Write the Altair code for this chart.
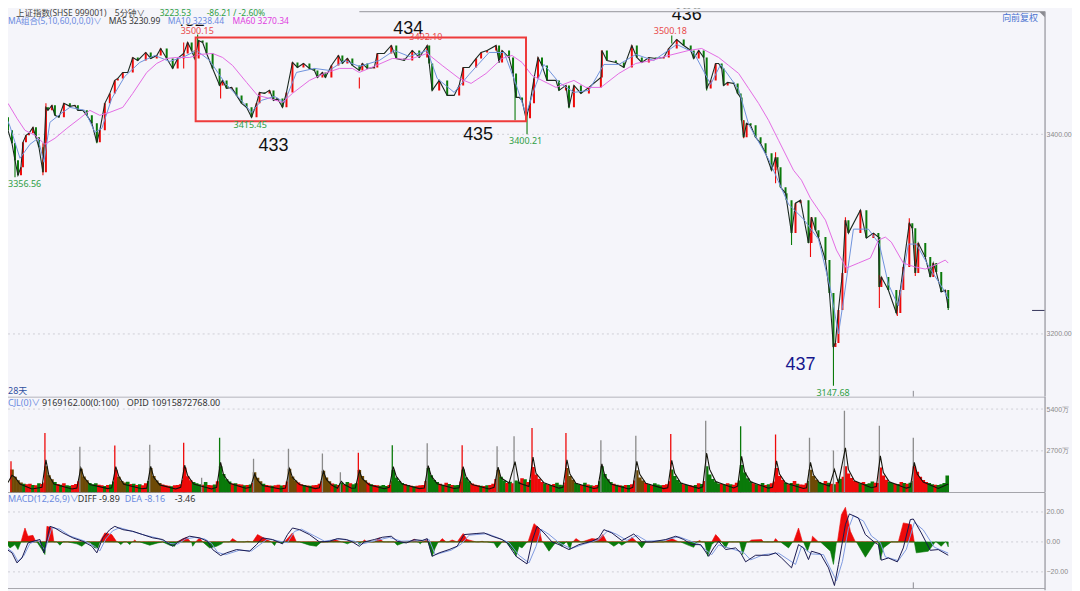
import altair as alt
import pandas as pd

BG = "#f5f5fa"
FONT = "Noto Sans, Noto Sans CJK SC"

# ---------- price panel ----------
close_x = [0,4,8,12,15,18,21,23,26,29,33,36,39,43,46,48,52,55,59,64,70,75,78,83,87,92,97,100,105,110,115,118,123,128,133,138,146,151,157,161,167,173,178,184,188,192,195,199,203,207,213,220,223,227,232,237,242,247,252,257,260,265,270,274,278,283,287,293,298,304,310,315,318,323,326,332,339,343,348,353,360,
363,368,375,378,385,392,397,405,413,420,428,430,433,440,448,455,460,464,470,477,482,488,497,500,503,510,514,517,520,523,527,531,535,539,543,548,557,560,567,570,575,582,590,602,603,608,617,625,633,638,643,650,657,665,670,678,685,692,695,700,705,708,712,717,
720,723,725,729,735,739,742,743,745,748,752,757,762,767,773,777,779,782,787,788,793,797,802,810,813,817,820,827,831,835,837,840,844,847,850,862,868,875,880,881,883,890,898,902,905,911,914,917,920,927,932,935,938,943,947,950]
close_p = [3424,3417,3404,3391,3374,3359,3367,3392,3399,3401,3407,3397,3387,3362,3427,3424,3429,3419,3417,3431,3428,3429,3424,3424,3419,3411,3392,3404,3431,3441,3454,3456,3462,3462,3477,3474,3482,3476,3479,3486,3476,3466,3476,3481,3492,3484,3476,3494,3492,3481,3466,3449,3454,3446,3447,3439,3431,3427,3417,3431,3442,3441,3444,3434,3436,3427,3442,3472,3467,3471,3466,3464,3457,3462,3457,3469,3479,3471,3476,3469,3464,
3471,3466,3467,3481,3481,3489,3476,3474,3484,3477,3489,3471,3444,3454,3439,3439,3449,3467,3467,3476,3482,3484,3489,3472,3484,3477,3461,3437,3437,3434,3416,3431,3456,3477,3469,3454,3454,3444,3449,3427,3449,3441,3447,3457,3484,3474,3472,3467,3489,3477,3472,3477,3476,3477,3486,3495,3489,3484,3476,3484,3477,3446,3454,3471,
3471,3466,3449,3452,3451,3441,3437,3414,3397,3411,3409,3397,3391,3381,3364,3377,3367,3347,3341,3334,3301,3331,3334,3291,3317,3304,3297,3274,3241,3187,3191,3224,3261,3314,3301,3324,3296,3301,3297,3247,3257,3244,3221,3244,3267,3311,3306,3261,3291,3277,3257,3271,3262,3242,3244,3226]

ma10_x = [0,10,20,30,38,44,50,60,70,85,95,102,112,125,140,155,170,185,197,210,225,240,252,262,275,285,297,315,330,345,360,380,395,410,428,438,455,470,490,505,517,527,537,545,560,575,590,605,620,637,655,678,695,712,722,740,750,770,790,805,820,832,840,846,855,870,881,890,900,910,918,932,945,950]
ma10_p = [3432,3408,3376,3390,3396,3372,3412,3420,3427,3424,3402,3406,3436,3458,3472,3479,3473,3478,3484,3474,3452,3436,3422,3434,3438,3432,3462,3466,3464,3474,3468,3474,3484,3478,3484,3456,3442,3460,3482,3482,3450,3420,3450,3470,3452,3442,3444,3470,3470,3480,3474,3490,3482,3450,3470,3445,3410,3375,3330,3315,3295,3245,3200,3240,3305,3305,3290,3250,3228,3290,3290,3265,3245,3235]

ma60_x = [0,8,17,25,35,45,55,67,80,90,100,110,123,133,147,157,167,177,190,200,213,223,233,247,258,270,283,293,310,325,340,353,360,377,393,410,428,443,460,472,487,503,513,523,533,547,557,567,575,587,602,620,637,653,670,690,703,720,730,740,750,760,770,780,795,803,812,827,838,848,860,872,880,887,893,905,917,927,937,947,950]
ma60_p = [3435,3431,3416,3404,3399,3390,3396,3406,3416,3424,3419,3422,3427,3441,3462,3471,3476,3477,3477,3480,3481,3477,3469,3452,3439,3436,3432,3441,3454,3461,3466,3466,3462,3469,3476,3475,3481,3469,3456,3451,3461,3476,3479,3472,3459,3452,3447,3451,3454,3447,3447,3461,3471,3474,3479,3484,3486,3477,3469,3461,3446,3431,3414,3394,3364,3354,3336,3314,3284,3266,3271,3276,3294,3297,3292,3271,3267,3265,3269,3274,3271]

wick_x  = [15,43,46,97,184,198,221,360,516,528,570,673,708,745,777,793,812,835,847,881,899,911,917,950]
wick_hi = [3391,3391,3431,3404,3492,3500,3452,3457,3449,3421,3444,3499,3457,3414,3382,3307,3301,3191,3317,3259,3231,3316,3291,3237]
wick_lo = [3357,3359,3407,3391,3466,3489,3436,3446,3414,3400,3426,3491,3444,3396,3351,3289,3277,3148,3294,3226,3218,3301,3258,3224]
wick_d  = list("grrgrgrrgggggrrgrgrrrrrg")

box_x, box_x2, box_hi, box_lo = [196], [527], [3497], [3413]

big_t = ["433","434","435","436","432"]
big_x = [274,409,479,688,190]
big_p = [3388,3506,3399,3520,3514]

head_t = ["上证指数(SHSE 999001)","5分钟∨","3223.53","-86.21 / -2.60%"]
head_x = [16,115,160,207]
head_p = [3522,3522,3522,3522]
head_c = ["#444444","#444444","#2f9e44","#2f9e44"]

ma_t = ["MA组合(5,10,60,0,0,0)∨","MA5 3230.99","MA10 3238.44","MA60 3270.34"]
ma_x = [8,109,168,233]
ma_p = [3514,3514,3514,3514]
ma_c = ["#6a8ae0","#333333","#6a8ae0","#e040e0"]

small_t = ["3500.15","3492.10","3415.45","3400.21","3500.18","3147.68","3356.56","28天","向前复权"]
small_x = [181,410,234,510,655,818,8,8,1004]
small_p = [3504,3497,3409,3393,3504,3141,3350,3143,3517]
small_c = ["#e84a4a","#e84a4a","#2f9e44","#2f9e44","#e84a4a","#2f9e44","#2f9e44","#3050a0","#4a72d0"]

# ---------- volume panel (万) ----------
sess_x = [11,45,80,115,150,184,220,254,289,323,359,393,428,463,498,533,567,602,637,672,707,742,777,811,846,881,915]
sess_v = [
 [1500,1020,800,660,580,540,580,500,470,600,560,660],
 [1700,1120,860,680,560,510,600,480,450,500,560,740],
 [1550,1050,800,620,540,600,510,480,430,490,530,720],
 [1480,1020,760,660,700,560,580,500,550,470,600,760],
 [1600,1080,780,620,530,480,440,420,480,500,550,820],
 [1620,1060,800,680,600,540,510,680,500,470,530,740],
 [1700,1200,860,720,590,610,550,520,480,500,530,620],
 [1320,960,730,580,500,460,450,480,510,460,500,720],
 [1550,1040,780,660,550,500,460,440,470,500,580,760],
 [1420,980,730,590,550,500,640,520,680,600,540,600],
 [1460,1080,800,640,540,500,470,450,490,430,500,740],
 [1480,980,750,620,550,500,440,420,450,470,500,760],
 [1600,1120,820,680,570,510,640,560,500,470,490,720],
 [1500,980,730,590,510,470,440,430,470,500,580,880],
 [1460,1020,780,620,700,600,780,700,930,860,680,820],
 [1660,1180,900,680,590,520,500,560,640,510,470,660],
 [1600,1080,840,620,540,500,640,520,480,450,500,740],
 [1700,1200,860,680,570,510,470,450,500,490,550,780],
 [1440,980,780,620,540,480,600,520,470,500,540,740],
 [1500,1080,820,640,550,500,470,450,490,600,560,760],
 [1700,1180,880,700,590,560,520,600,550,510,640,780],
 [1780,1300,930,720,610,550,510,620,490,540,600,720],
 [1600,1080,820,660,550,620,760,580,520,510,600,760],
 [1480,1080,840,680,610,760,640,580,550,680,900,1020],
 [1700,1230,950,760,680,600,680,560,600,720,640,620],
 [1630,1100,840,680,630,580,560,680,620,580,640,760],
 [1700,1350,1020,810,680,620,550,510,490,550,620,1100],
]
sess_c = ["oooogrrgrgrr","ooogrgrggrrr","ooogggrrgrgg","rooogrgrgrrg","oooorrrgrrrr","rrrgggrgrrgr",
          "ggggrgrrgrgr","ooogrrgrrgrr","ooorrgrgrrrr","ooorgrgrgrgg","ooorgrrgggrr","ggggrgrgrrrr",
          "ggggrgrgrggr","gggrrrgrgrrr","oggrgrggrgrg","rrrrgrgrgggr","oooggrgrgrrg","ggggrgrgrgrr",
          "ooorgrgggrrr","ggggrgrrgrgr","gggggrgrgrrg","ggggrgrgrgrr","rrrgrgrgrrrg","oooggrgrgrgr",
          "rrrrrgrgggrr","rrrggrgrgrgg","rrrrrggrgggg"]

spike_x = [11,45,80,115,150,184,202,220,254,289,323,341,359,393,428,463,498,515,533,567,602,637,672,707,742,777,811,835,846,881,915]
spike_v = [2033,3860,2960,3050,3090,3220,960,3540,2190,2830,2530,1325,2570,3060,3190,3060,3000,3640,4180,3860,3380,3680,3790,4650,4285,3750,3540,2720,5290,4330,3540]
spike_c = list("rrkrkrkgkkkkrgkrkkrrkkrkgrkkkkk")

vol_avg = [(8,650),(12,1120),(15,1000),(20,560),(32,240),(42,340),(46,2120),(49,1100),(54,560),(72,240),(77,300),(81,1600),(84,1000),(90,520),(108,260),(112,320),(116,1680),(119,1050),(124,540),(142,250),(147,290),(151,1700),(154,1000),(160,500),(176,240),(181,340),(185,1770),(188,1100),(194,560),(212,240),(217,340),(221,1950),(224,1150),(230,600),(246,280),(251,340),(255,1200),(258,800),(263,460),(281,240),(286,300),(290,1560),(293,980),(300,520),(316,260),(320,320),(324,1390),(327,850),(332,500),(338,280),(342,730),(345,520),(352,280),(356,300),(360,1410),(363,900),(370,500),(385,250),(390,340),(394,1680),(397,1050),(403,560),(420,260),(425,300),(429,1750),(432,1080),(438,580),(455,270),(460,320),(464,1680),(467,1000),(473,520),(490,240),(495,340),(499,1650),(502,950),(510,620),(516,2000),(520,620),(530,400),(534,2300),(537,1250),(545,640),(560,290),(564,340),(568,2120),(571,1200),(577,600),(595,270),(599,320),(603,1860),(606,1080),(612,560),(630,240),(634,340),(638,2020),(641,1180),(647,600),(665,260),(669,320),(673,2080),(676,1250),(682,620),(700,280),(704,380),(708,2560),(711,1500),(717,720),(735,300),(739,420),(743,2350),(746,1350),(752,700),(770,290),(774,340),(778,2060),(781,1200),(787,620),(805,270),(808,320),(812,1950),(815,1150),(821,640),(831,420),(836,1500),(840,620),(847,2900),(850,1500),(856,760),(873,320),(878,400),(882,2380),(885,1300),(891,700),(908,290),(912,360),(916,1950),(919,1200),(925,680),(940,270),(950,560)]

# ---------- MACD panel ----------
hist_pos = [(0,1.6),(3,0),(21,0),(25,9.3),(28,3.8),(33,4.4),(36,0),(46,0),(47,10.4),(52,9.3),(54,0),(100,0),(105,6),(112,4.9),(117,0),(133,0),(135,1.3),(137,0),(177,0),(187,3.1),(191,0),(196,0),(200,2.7),(203,0),(230,0),(233,2.2),(238,0),(245,0),(248,.4),(253,0),(258,4.9),(267,1.6),(272,0),(285,0),(293,6),(297,0),(328,0),(335,1.6),(342,0),(363,0),(365,1.3),(368,0),(375,0),(380,2.7),(384,0),(410,0),(415,1.8),(418,0),(424,0),(427,1.6),(429,0),(440,0),(443,2.2),(447,0),(449,0),(453,1.3),(458,0),(464,5.6),(468,1.6),(477,0),(480,0),(483,.4),(485,0),(529,0),(535,12.2),(540,9.3),(543,0),(574,0),(577,2.2),(582,0),(583,0),(593,2.2),(600,1.6),(604,4.9),(608,0),(628,0),(633,3.1),(638,0),(665,0),(673,2.2),(680,0),(698,0),(701,.9),(703,0),(713,0),(717,4.9),(720,2.7),(723,0),(750,0),(753,1.3),(763,1.6),(765,0),(775,0),(777,2.2),(780,0),(795,0),(800,9.3),(804,0),(813,0),(814,3.8),(820,0),(839,0),(843,18.2),(847,23.1),(852,7.1),(857,0),(900,0),(905,12.7),(913,11.6),(916,0)]
hist_neg = [(5,0),(10,-4),(15,-1.8),(18,-5.1),(21,0),(37,0),(42,-5.1),(45,-8.4),(46,0),(57,0),(60,-2.2),(63,0),(68,0),(77,-1.3),(82,-2.9),(87,0),(90,0),(95,-4),(98,-4),(100,0),(118,0),(121,-1.8),(124,0),(127,0),(130,-1.8),(132,0),(140,0),(150,-2.2),(158,-.7),(163,0),(170,-2.2),(175,-2.9),(177,0),(192,0),(193,-2.9),(196,0),(203,0),(210,-4),(217,-2.9),(222,-1.3),(224,0),(272,0),(275,-2.4),(277,0),(280,0),(283,-.9),(285,0),(300,0),(310,-2.2),(317,-2.9),(322,0),(343,0),(348,-1.3),(352,0),(358,0),(360,-1.8),(362,0),(395,0),(398,-2.2),(403,-.9),(408,0),(419,0),(421,-1.3),(423,0),(429,0),(433,-9.6),(436,-4),(439,0),(488,0),(495,-.7),(498,-4),(503,0),(507,0),(515,-6.2),(517,-9.6),(520,-2.9),(523,-4),(528,0),(544,0),(550,-6.2),(557,0),(558,0),(563,-2.9),(567,0),(568,0),(571,-5.1),(573,0),(609,0),(615,-2.9),(620,-.7),(623,-2.2),(628,0),(638,0),(643,-4),(647,0),(682,0),(688,-1.8),(695,-3.6),(698,0),(706,0),(709,-9.6),(713,-1.8),(716,0),(723,0),(727,-4),(730,0),(741,0),(744,-8.4),(748,0),(782,0),(790,-4),(794,0),(805,0),(809,-6.2),(812,0),(822,0),(832,-6.2),(835,-15),(838,0),(858,0),(867,-10.2),(873,-4),(877,0),(880,0),(882,-11.8),(885,-4),(893,0),(916,0),(918,-7.3),(930,-6.2),(937,0),(938,0),(943,-2.9),(947,0),(948,0),(950,-3.3)]
diff = [(0,-4),(7,-5.1),(12,-7.3),(17,-14),(22,-10.7),(28,-.7),(33,.4),(40,1.6),(44,-7.3),(50,10.4),(55,9.3),(63,6),(73,2.7),(83,.4),(92,-2.9),(97,-7.3),(103,2.7),(110,8.2),(115,10.4),(123,8.2),(133,7.1),(143,4.9),(153,2.7),(163,1.6),(173,-2.9),(182,1.6),(190,3.8),(200,2.7),(208,.4),(213,-5.1),(221,-9.1),(227,-7.3),(237,-5.1),(250,-6.2),(257,-1.8),(263,2.7),(273,1.6),(283,-1.3),(288,4.9),(293,9.3),(300,8.2),(310,4.9),(320,0),(330,.4),(338,2.2),(347,1.6),(353,0),(360,-2.9),(365,0),(375,1.6),(383,3.1),(392,3.8),(398,.4),(407,-.7),(415,1.6),(423,.9),(428,2.2),(433,-9.6),(440,-7.3),(450,-5.1),(458,-2.9),(465,4.9),(477,5.6),(485,6),(493,3.8),(503,1.6),(508,-.7),(517,-9.6),(528,-14.7),(533,.4),(538,10.4),(545,6),(553,0),(560,-1.8),(570,-5.1),(580,-1.8),(593,.4),(600,2.7),(605,8.2),(613,6),(623,.9),(635,5.3),(643,0),(653,0),(667,1.6),(677,3.8),(685,1.6),(693,-1.8),(702,-1.8),(710,-9.6),(715,-4),(720,.4),(727,-5.1),(737,-4),(742,-7.3),(747,-13.3),(757,-8.9),(770,-8.9),(777,-7.3),(783,-10.7),(793,-17.3),(800,-1.8),(805,-4),(810,-11.8),(813,-6.2),(822,-8),(830,-17.3),(836,-29.1),(840,-15.1),(847,11.6),(851,18.7),(860,16),(867,4.9),(877,-.7),(880,-1.8),(883,-12.2),(890,-10.7),(899,-13.3),(905,-4),(912,14.9),(915,15.3),(923,6),(932,-5.6),(940,-5.1),(950,-8.9)]
dea = [(0,-3),(8,-4.5),(13,-7),(18,-13),(24,-9),(30,-1),(38,1),(45,-5.5),(52,9.5),(60,8.5),(70,4),(85,.5),(95,-3),(100,-6),(106,2),(113,7.5),(120,9.5),(130,7.5),(145,4.5),(158,2.5),(170,-1),(178,-1.5),(186,2),(195,3),(205,2),(212,-1),(218,-7),(226,-8.5),(240,-5.5),(252,-6),(260,-2),(268,2),(280,.5),(288,-.5),(295,7),(302,8.5),(315,4),(325,.5),(340,2),(355,.5),(362,-1.5),(378,1.2),(390,3),(402,.5),(418,.8),(430,1.5),(436,-8.5),(452,-5.5),(462,-1.5),(470,4.5),(488,5.5),(498,3),(510,-.5),(520,-9),(530,-14),(537,-3),(542,8.5),(550,5),(560,-.5),(572,-4.5),(585,-1.5),(600,1.5),(609,7.5),(618,5),(628,1),(638,4.5),(648,.5),(665,1),(680,3.5),(690,1),(700,-1.5),(713,-8.5),(720,-2),(730,-4),(745,-7),(752,-12),(765,-8.5),(780,-7.5),(797,-15),(803,-3),(813,-8),(825,-8.5),(838,-26),(844,-13),(850,9),(855,17.5),(865,14),(873,4),(882,-.5),(887,-10),(900,-12.5),(908,-5),(916,13),(925,8),(936,-3.5),(950,-7.5)]

vol_text_t = ["CJL(0)∨","9169162.00(0:100)","OPID 10915872768.00"]
vol_text_x = [8,42,127]
vol_text_c = ["#6a8ae0","#333333","#333333"]
macd_text_t = ["MACD(12,26,9)∨","DIFF -9.89","DEA -8.16","-3.46"]
macd_text_x = [8,78,125,175]
macd_text_c = ["#6a8ae0","#333333","#6a8ae0","#333333"]

# ---------- tables ----------
RED, GREEN, OLIVE = "#ee0a0a", "#0a7a0a", "#6e4a06"
cmap = {"r": RED, "g": GREEN, "o": OLIVE, "k": "#8a8a8a"}

candles = pd.DataFrame({"x": close_x[1:], "open": close_p[:-1], "close": close_p[1:]})
candles["col"] = [RED if c >= o else GREEN for o, c in zip(candles["open"], candles["close"])]
wicks = pd.DataFrame({"x": wick_x, "hi": wick_hi, "lo": wick_lo, "col": [cmap[d] for d in wick_d]})

vol_rows = []
for s, vals, cols in zip(sess_x, sess_v, sess_c):
    for i, (v, c) in enumerate(zip(vals, cols)):
        vol_rows.append({"x": s + i * 3 + 1, "v": v, "col": cmap[c]})
vol_bars = pd.DataFrame(vol_rows)
spikes = pd.DataFrame({"x": spike_x, "v": spike_v, "col": [cmap[c] for c in spike_c]})

xs = alt.Scale(domain=[8, 1072], nice=False, zero=False, padding=0)
X = alt.X("x:Q", scale=xs, axis=None)
W = 1064

def axis(values, expr):
    return alt.Axis(orient="right", values=values, labelExpr=expr, title=None, domain=False, ticks=False,
                    grid=False, labelColor="#8a8a8a", labelFont="Liberation Sans", labelFontSize=7,
                    labelPadding=-24, minExtent=0)

ys = alt.Scale(domain=[3137, 3526], nice=False, zero=False)
PA = axis([3400, 3200], "format(datum.value, '.2f')")
PY = lambda f: alt.Y(f, scale=ys, axis=PA, title=None)

def line(pts, y, color, w):
    return alt.Chart(pd.DataFrame(pts, columns=["x", "y"])).mark_line(color=color, strokeWidth=w, clip=True).encode(x=X, y=y)

def hrule(rows, y, color, w=1.0):
    return alt.Chart(pd.DataFrame(rows)).mark_rule(color=color, strokeWidth=w, clip=True).encode(
        x=X, x2="x2:Q", y=y)

def grid(vals, y):
    return alt.Chart(pd.DataFrame({"x": [8] * len(vals), "x2": [1047] * len(vals), "y": vals})).mark_rule(
        color="#cfcfd6", strokeWidth=1, strokeDash=[2, 3], clip=True).encode(x=X, x2="x2:Q", y=y)

def vrule(rows, ychan, color, w=1.0):
    return alt.Chart(pd.DataFrame(rows)).mark_rule(color=color, strokeWidth=w, clip=True).encode(
        x=X, y=ychan, y2="y2:Q")

def texts(t, x, y, c, ychan, size=9):
    return alt.Chart(pd.DataFrame({"t": t, "x": x, "y": y, "c": c})).mark_text(
        align="left", baseline="middle", font=FONT, fontSize=size, clip=True).encode(
        x=X, y=ychan, text="t:N", color=alt.Color("c:N", scale=None))

price = alt.layer(
    grid([3400, 3200], PY("y:Q")),
    alt.Chart(candles).mark_rule(strokeWidth=2.0, clip=True).encode(x=X, y=PY("open:Q"), y2="close:Q", color=alt.Color("col:N", scale=None)),
    alt.Chart(wicks).mark_rule(strokeWidth=1.1, clip=True).encode(x=X, y=PY("hi:Q"), y2="lo:Q", color=alt.Color("col:N", scale=None)),
    line(list(zip(close_x, close_p)), PY("y:Q"), "#1c2a22", 1.1),
    line(list(zip(ma10_x, ma10_p)), PY("y:Q"), "#6f93dc", 1.0),
    line(list(zip(ma60_x, ma60_p)), PY("y:Q"), "#e36be3", 1.0),
    alt.Chart(pd.DataFrame({"x": box_x, "x2": box_x2, "y": box_hi, "y2": box_lo})).mark_rect(
        fillOpacity=0, stroke="#ee3b3b", strokeWidth=2, clip=True).encode(x=X, x2="x2:Q", y=PY("y:Q"), y2="y2:Q"),
    alt.Chart(pd.DataFrame({"t": big_t, "x": big_x, "y": big_p})).mark_text(
        font="Liberation Sans", fontSize=18, color="#111111", baseline="middle", clip=True).encode(x=X, y=PY("y:Q"), text="t:N"),
    alt.Chart(pd.DataFrame({"t": ["437"], "x": [802], "y": [3169]})).mark_text(
        font="Liberation Sans", fontSize=18, color="#16168c", baseline="middle", clip=True).encode(x=X, y=PY("y:Q"), text="t:N"),
    alt.Chart(pd.DataFrame({"x": [170, 360], "x2": [212, 1047], "y": [3526, 3526], "y2": [3510, 3523]})).mark_rect(
        color=BG, clip=True).encode(x=X, x2="x2:Q", y=PY("y:Q"), y2="y2:Q"),
    hrule({"x": [360], "x2": [1047], "y": [3523]}, PY("y:Q"), "#a8a8ae", 1.2),
    hrule({"x": [1034], "x2": [1047], "y": [3223.53]}, PY("y:Q"), "#35355a", 1.0),
    vrule({"x": [915], "y": [3143], "y2": [3137]}, PY("y:Q"), "#8a8a90"),
    vrule({"x": [1047], "y": [3523], "y2": [3137]}, PY("y:Q"), "#a0a0a8", 1.4),
    alt.Chart(pd.DataFrame({"x": [1044], "y": [3520]})).mark_point(
        shape="M -1 -1 L 1 -1 L 1 1 Z", filled=True, size=30, color="#8a8a90", opacity=1, clip=True).encode(x=X, y=PY("y:Q")),
    texts(small_t, small_x, small_p, small_c, PY("y:Q")),
    texts(head_t, head_x, head_p, head_c, PY("y:Q"), 8.5),
    texts(ma_t, ma_x, ma_p, ma_c, PY("y:Q"), 8.5),
).properties(width=W, height=389)

yv = alt.Scale(domain=[0, 6192], nice=False, zero=False)
VA = axis([5400, 2700], "datum.value + '万'")
VY = lambda f: alt.Y(f, scale=yv, axis=VA, title=None, stack=None)
volume = alt.layer(
    grid([5400, 2700], VY("y:Q")),
    alt.Chart(vol_bars).mark_bar(size=3.6, orient="vertical", clip=True).encode(
        x=X, y=VY("v:Q"), color=alt.Color("col:N", scale=None)),
    alt.Chart(spikes).mark_bar(size=1.3, orient="vertical", clip=True).encode(
        x=X, y=VY("v:Q"), color=alt.Color("col:N", scale=None)),
    line(vol_avg, VY("y:Q"), "#14140a", 1.1),
    hrule({"x": [8], "x2": [1047], "y": [6192]}, VY("y:Q"), "#a0a0a8", 1.4),
    hrule({"x": [8], "x2": [1047], "y": [0]}, VY("y:Q"), "#8a8a90", 1.2),
    vrule({"x": [1047], "y": [6192], "y2": [0]}, VY("y:Q"), "#a0a0a8", 1.4),
    texts(vol_text_t, vol_text_x, [5775] * 3, vol_text_c, VY("y:Q")),
).properties(width=W, height=96)

ym = alt.Scale(domain=[-32.4, 32.9], nice=False, zero=False)
MA_ = axis([20, 0, -20], "format(datum.value, '.2f')")
MY = lambda f: alt.Y(f, scale=ym, axis=MA_, title=None, stack=None)
macd = alt.layer(
    grid([20, 0, -20], MY("y:Q")),
    alt.Chart(pd.DataFrame(hist_pos, columns=["x", "y"])).mark_area(color=RED, clip=True, stroke=RED, strokeWidth=0.6).encode(
        x=X, y=MY("y:Q")),
    alt.Chart(pd.DataFrame(hist_neg, columns=["x", "y"])).mark_area(color=GREEN, clip=True, stroke=GREEN, strokeWidth=0.6).encode(
        x=X, y=MY("y:Q")),
    line(dea, MY("y:Q"), "#7f9be0", 1.0),
    line(diff, MY("y:Q"), "#1a1a50", 1.0),
    hrule({"x": [8], "x2": [1047], "y": [-31.1]}, MY("y:Q"), "#a8a8ae", 1.2),
    vrule({"x": [1047], "y": [32.9], "y2": [-32.4]}, MY("y:Q"), "#a0a0a8", 1.4),
    vrule({"x": [915], "y": [-27], "y2": [-31.1]}, MY("y:Q"), "#8a8a90"),
    texts(macd_text_t, macd_text_x, [28.7] * 4, macd_text_c, MY("y:Q")),
).properties(width=W, height=98)

chart = alt.vconcat(price, volume, macd, spacing=0, bounds="flush", padding=0, background=BG).configure_view(stroke=None)
chart.save("out.html", embed_options={"renderer": "svg", "actions": False})
